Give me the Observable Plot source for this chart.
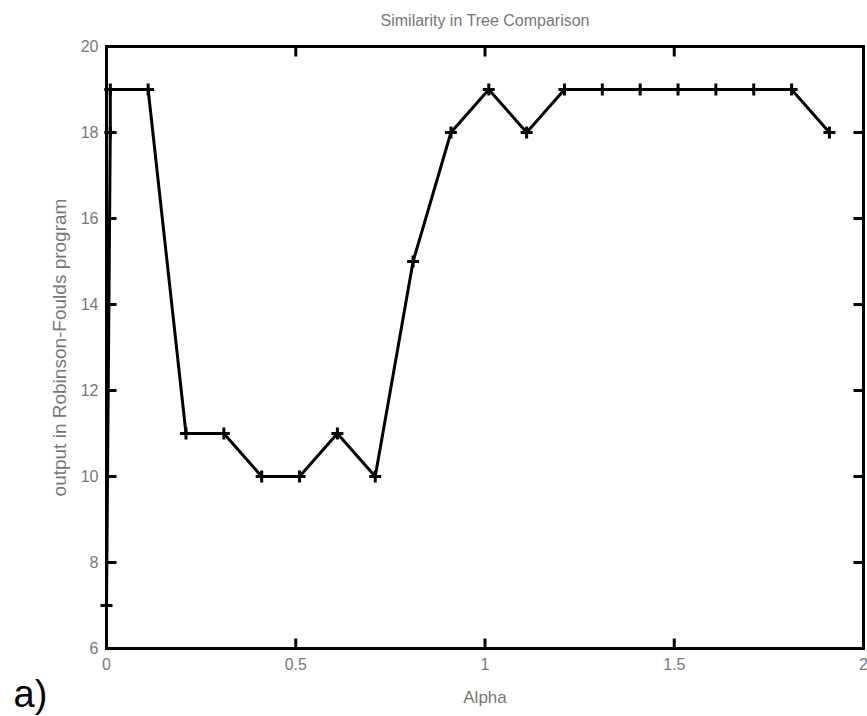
<!DOCTYPE html>
<html>
<head>
<meta charset="utf-8">
<script src="https://cdn.jsdelivr.net/npm/d3@7"></script>
<script src="https://cdn.jsdelivr.net/npm/@observablehq/plot@0.6"></script>
<style>
  html, body { margin: 0; padding: 0; background: #fff; }
  svg { display: block; }
</style>
</head>
<body>
<div id="chart"></div>
<script>
// Data
const alpha    = [0, 0.01, 0.01, 0.11, 0.21, 0.31, 0.41, 0.51, 0.61, 0.71, 0.81, 0.91, 1.01, 1.11, 1.21, 1.31, 1.41, 1.51, 1.61, 1.71, 1.81, 1.91];
const rfOutput = [7, 18, 19, 19, 11, 11, 10, 10, 11, 10, 15, 18, 19, 18, 19, 19, 19, 19, 19, 19, 19, 18];
const xTicks = [0, 0.5, 1, 1.5, 2];
const xTickLabels = ["0", "0.5", "1", "1.5", "2"];
const yTicks = [6, 8, 10, 12, 14, 16, 18, 20];
const titleText = "Similarity in Tree Comparison";
const xLabelText = "Alpha";
const yLabelText = "output in Robinson-Foulds program";
const panelText = "a)";

const data = alpha.map((a, i) => ({alpha: a, value: rfOutput[i]}));

// symbols
const plusSym = {draw(ctx, size) { const r = Math.sqrt(size / Math.PI); ctx.moveTo(-r, 0); ctx.lineTo(r, 0); ctx.moveTo(0, -r); ctx.lineTo(0, r); }};
const tickRight = {draw(ctx, size) { const r = Math.sqrt(size / Math.PI); ctx.moveTo(0, 0); ctx.lineTo(r, 0); }};
const tickLeft = {draw(ctx, size) { const r = Math.sqrt(size / Math.PI); ctx.moveTo(0, 0); ctx.lineTo(-r, 0); }};
const tickUp = {draw(ctx, size) { const r = Math.sqrt(size / Math.PI); ctx.moveTo(0, 0); ctx.lineTo(0, -r); }};
const tickDown = {draw(ctx, size) { const r = Math.sqrt(size / Math.PI); ctx.moveTo(0, 0); ctx.lineTo(0, r); }};

const font = "'Liberation Sans', Arial, sans-serif";
const gray = "#777";

const chart = Plot.plot({
  width: 867,
  height: 716,
  marginLeft: 106,
  marginRight: 4,
  marginTop: 46,
  marginBottom: 68,
  style: {fontFamily: font, background: "#fff"},
  x: {domain: [0, 2]},
  y: {domain: [6, 20]},
  marks: [
    Plot.axisY({ticks: yTicks, tickSize: 0, tickPadding: 8, color: gray, fontSize: 16, label: null, anchor: "left"}),
    Plot.axisX({ticks: xTicks, tickFormat: d => xTickLabels[xTicks.indexOf(d)], tickSize: 0, tickPadding: 10, color: gray, fontSize: 16, label: null, anchor: "bottom"}),
    // inward ticks on all four sides
    Plot.dot(yTicks, {y: d => d, frameAnchor: "left", symbol: tickRight, r: 10, stroke: "black", fill: "none", strokeWidth: 3}),
    Plot.dot(yTicks, {y: d => d, frameAnchor: "right", symbol: tickLeft, r: 10, stroke: "black", fill: "none", strokeWidth: 3}),
    Plot.dot(xTicks, {x: d => d, frameAnchor: "bottom", symbol: tickUp, r: 10, stroke: "black", fill: "none", strokeWidth: 3}),
    Plot.dot(xTicks, {x: d => d, frameAnchor: "top", symbol: tickDown, r: 10, stroke: "black", fill: "none", strokeWidth: 3}),
    Plot.frame({stroke: "black", strokeWidth: 3}),
    Plot.line(data, {x: "alpha", y: "value", stroke: "black", strokeWidth: 3}),
    Plot.dot(data, {x: "alpha", y: "value", symbol: plusSym, r: 6, stroke: "black", fill: "none", strokeWidth: 3}),
    // texts
    Plot.text([titleText], {frameAnchor: "top", dy: -26, textAnchor: "middle", lineAnchor: "middle", fill: gray, fontSize: 16}),
    Plot.text([xLabelText], {frameAnchor: "bottom", dy: 49, textAnchor: "middle", lineAnchor: "middle", fill: gray, fontSize: 17}),
    Plot.text([yLabelText], {frameAnchor: "left", dx: -47, rotate: -90, textAnchor: "middle", lineAnchor: "middle", fill: gray, fontSize: 19}),
    Plot.text([panelText], {frameAnchor: "bottom-left", dx: -93, dy: 46, textAnchor: "start", lineAnchor: "middle", fill: "black", fontSize: 38})
  ]
});
document.getElementById("chart").appendChild(chart);
</script>
</body>
</html>
